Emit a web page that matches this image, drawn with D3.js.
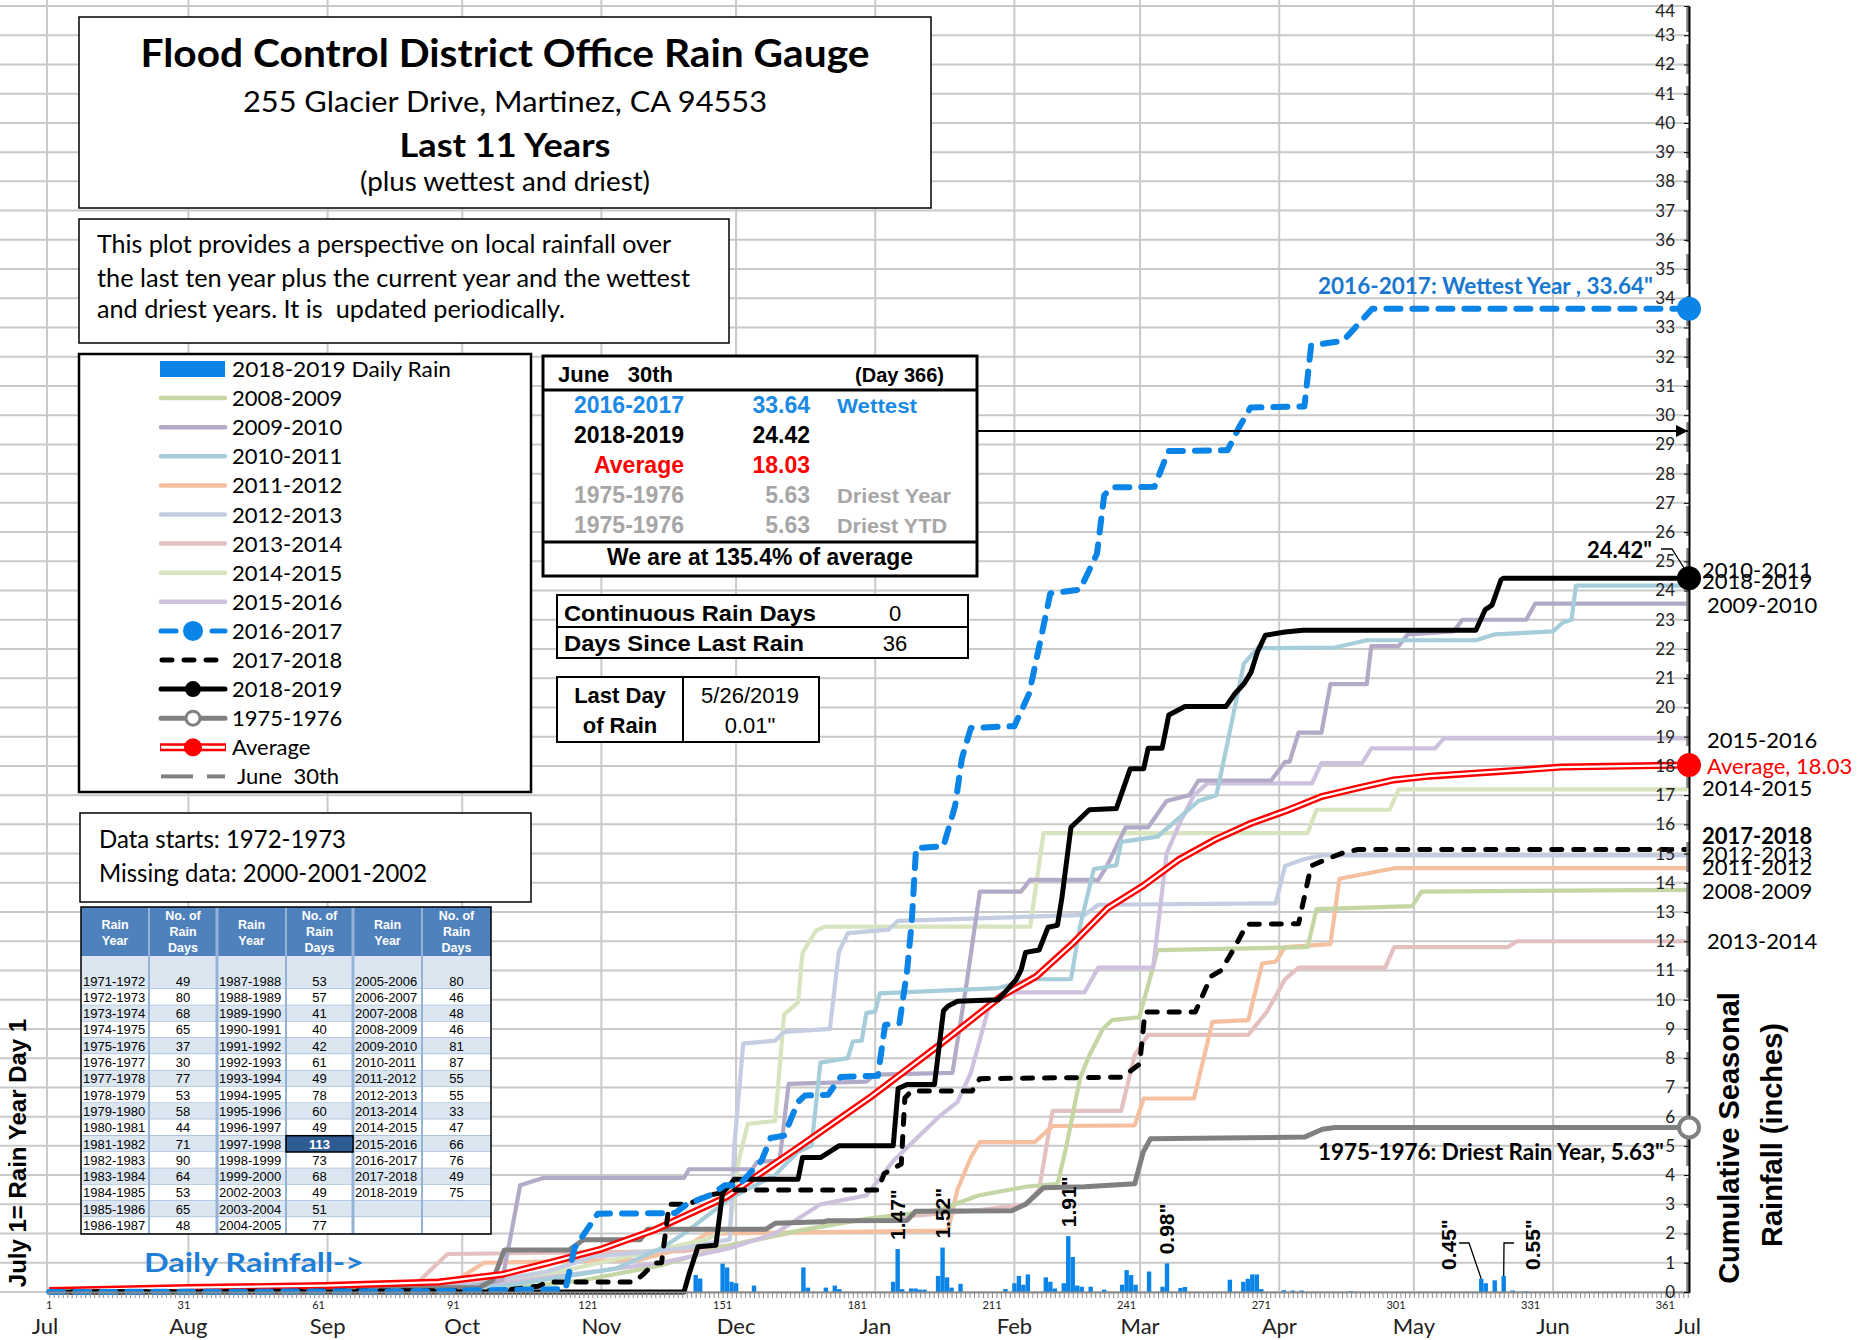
<!DOCTYPE html>
<html>
<head>
<meta charset="utf-8">
<script src="https://cdn.jsdelivr.net/npm/d3@7"></script>
<style>
  body { margin: 0; background: #fff; }
  svg { display: block; }
  text { white-space: pre; }
</style>
</head>
<body>
<div id="chart"></div>
<script>
// ----------------------
// DATA  (day of rain year, cumulative inches)
// ----------------------
const y2008_09 = [[1,0],[102,0.1],[120,0.4],[137,0.9],[152.6,1.6],[168,2.1],[183,2.5],[199,2.8],[208,3.3],[218.5,3.6],[225.6,3.7],[227.6,5.0],[230.6,7.3],[232.7,8.1],[235.7,9.0],[237.7,9.3],[243.8,9.4],[245.8,10.5],[247.9,11.7],[281.3,11.8],[283.3,13.1],[304.6,13.2],[306.7,13.7],[366,13.76]];
const y2009_10 = [[1,0],[91.7,0.1],[101.9,0.4],[103.9,2.0],[105.9,3.65],[111,3.9],[142.4,3.9],[143.5,4.2],[157.6,4.2],[158.7,4.45],[163.7,4.5],[165.7,7.12],[183,7.2],[185,7.44],[202.2,7.5],[205.3,10.5],[208.3,13.7],[217.5,13.7],[219.5,14.1],[234.7,14.1],[236.7,14.6],[240.8,15.9],[245.8,15.9],[249.9,16.8],[255,17.0],[257,17.5],[273.2,17.5],[276.3,18.14],[277.3,18.14],[279.3,19.14],[284.4,19.14],[286.4,20.8],[294.5,20.8],[295.5,22.1],[301.6,22.1],[303.6,22.5],[313.8,22.6],[315.8,23.0],[330,23.0],[332,23.55],[366,23.55]];
const y2010_11 = [[1,0],[101.9,0.2],[127.2,0.8],[137.4,1.5],[142.4,2.0],[152.6,3.2],[162.7,4.0],[167.8,4.8],[170.8,5.0],[172.8,7.85],[178.9,8.0],[180,8.57],[182,8.6],[183,9.54],[185,9.6],[186,10.22],[212.4,10.4],[219.5,10.7],[228.6,10.7],[230.6,12.5],[233.7,14.47],[238.7,14.6],[239.8,15.4],[247.9,15.58],[257,16.8],[261,17.0],[264.1,19.25],[267.1,21.5],[270.2,22.03],[287.4,22.05],[294.5,22.3],[318.8,22.3],[322.9,22.5],[336,22.6],[338.1,22.9],[340.1,23.0],[341.1,24.17],[366,24.17]];
const y2011_12 = [[1,0],[61.3,0.1],[91.7,0.4],[97.8,1.0],[132.3,1.1],[142.4,1.5],[147.5,2.0],[201.2,2.1],[203.3,3.5],[206.3,4.6],[208.3,5.13],[220.5,5.13],[224.5,5.68],[242.8,5.7],[244.8,6.62],[256,6.62],[260.1,9.24],[268.1,9.3],[271.2,11.24],[274.2,11.3],[276.3,11.8],[286.4,11.9],[288.4,14.14],[300.6,14.5],[366,14.5]];
const y2012_13 = [[1,0],[96.8,0.3],[112,0.7],[122.2,1.2],[142.4,1.5],[152.6,1.8],[153.6,5.0],[155.6,8.5],[162.7,8.6],[164.7,8.9],[174.9,9.0],[176.9,11.64],[178.9,12.28],[188,12.4],[190.1,12.7],[231.6,12.9],[234.7,13.25],[274.2,13.3],[276.3,14.58],[280.3,14.8],[284.4,14.94],[366,14.94]];
const y2013_14 = [[1,0],[81.6,0.1],[84.6,0.55],[89.7,1.3],[142.4,1.4],[152.6,1.6],[177.9,2.4],[193.1,2.6],[208.3,2.8],[218.5,3.0],[221.5,3.5],[224.5,6.2],[239.8,6.2],[242.8,8.1],[245.8,8.8],[268.1,8.8],[272.2,9.58],[276.3,10.7],[279.3,11.1],[298.6,11.1],[300.6,11.8],[325.9,11.8],[328,12.0],[366,12.0]];
const y2014_15 = [[1,0],[91.7,0.2],[112,0.6],[132.3,1.3],[147.5,1.8],[152.6,2.2],[154.6,4.5],[156.6,5.75],[162.7,5.85],[164.7,9.5],[167.8,9.9],[168.8,11.6],[171.8,12.37],[173.9,12.5],[219.5,12.5],[222.5,15.7],[281.3,15.7],[283.3,16.5],[299.6,16.5],[301.6,17.2],[366,17.2]];
const y2015_16 = [[1,0],[71.5,0.1],[101.9,0.3],[117.1,0.6],[137.4,1.0],[152.6,1.5],[162.7,2.0],[172.8,3.0],[183,3.3],[189.1,4.5],[199.2,6.0],[203.3,6.5],[206.3,7.5],[210.4,9.8],[213.4,10.25],[231.6,10.25],[234.7,11.1],[246.9,11.1],[249.9,15.0],[253,16.1],[256,17.0],[259,17.4],[282.3,17.4],[284.4,18.1],[293.5,18.1],[295.5,18.6],[309.7,18.6],[311.7,18.94],[366,18.94]];
const y2016_17 = [[1,0],[81,0.02],[116,0.1],[118,1.5],[123.2,2.68],[140.4,2.7],[143,3.0],[148.5,3.33],[151.5,3.65],[154.6,3.65],[159.7,4.5],[161.7,5.27],[164.7,5.35],[167.8,6.5],[169.3,6.72],[174.5,6.75],[177.3,7.36],[185.6,7.4],[187.2,9.14],[190.4,9.2],[192.1,11.0],[193.1,12.6],[194.1,15.19],[200.2,15.25],[202.8,16.64],[204.3,18.25],[206.3,19.3],[216,19.36],[219.3,20.48],[222.5,22.8],[224,23.9],[230.6,24.03],[234.4,25.26],[236,27.26],[237.7,27.53],[247.2,27.55],[250.3,28.77],[263.5,28.8],[266.1,29.6],[268.6,30.26],[280.6,30.3],[282.1,32.38],[289.3,32.55],[292.5,33.1],[295.7,33.64],[366,33.64]];
const y2017_18 = [[1,0],[101.9,0.05],[110,0.2],[112,0.34],[131.3,0.34],[133.3,0.6],[135.8,0.99],[137.4,1.0],[139.1,3.0],[143.4,3.0],[147.5,3.3],[151,3.4],[153.6,3.49],[185.6,3.49],[187,4.05],[190.8,4.38],[191.6,6.64],[193.1,6.88],[206.6,6.88],[208.3,7.3],[240,7.35],[243.9,7.8],[245.1,9.58],[256.3,9.58],[259.8,10.8],[262,11.0],[264.7,11.69],[267.8,12.58],[279.3,12.6],[282.1,14.58],[285.4,14.8],[289.3,15.03],[292.5,15.14],[366,15.14]];
const y2018_19 = [[1,0],[142.4,0],[143.5,0.6],[145.5,1.55],[149.5,1.6],[151,3.4],[152.6,3.65],[153.6,3.86],[167.8,3.86],[168.8,4.6],[172.8,4.6],[174.9,4.8],[176.9,5.0],[189,5.0],[190.1,6.96],[192.1,7.1],[198.2,7.1],[200.2,9.62],[201.2,9.78],[203.3,9.95],[212.4,10.0],[216.4,10.69],[217.5,11.02],[218.5,11.62],[221.5,11.7],[223.5,12.48],[225.6,12.55],[226.6,13.5],[228.6,15.9],[232.7,16.5],[238.7,16.54],[241.8,17.9],[244.8,17.9],[245.8,18.6],[248.9,18.6],[250.4,19.74],[254,20.03],[263.1,20.03],[265.1,20.47],[267.1,20.8],[268.7,21.2],[270.2,21.92],[271.9,22.47],[276.3,22.58],[280.3,22.64],[318.8,22.64],[320.9,23.35],[322.4,23.5],[324.4,24.37],[324.9,24.42],[366,24.42]];
const y1975_76 = [[1,0],[31,0.05],[61,0.1],[96.8,0.15],[99.8,0.4],[102.4,1.44],[116.8,1.44],[120,1.79],[132.7,1.79],[134.3,2.15],[160.7,2.15],[162.7,2.35],[173.3,2.4],[174.5,2.44],[192.1,2.45],[194,2.76],[215.4,2.78],[218.5,3.0],[222.5,3.57],[231.6,3.6],[242.8,3.7],[244.7,4.79],[246.3,5.24],[280.6,5.3],[284.6,5.57],[287.4,5.63],[366,5.63]];
const yAverage = [[1,0.05],[31.9,0.15],[62.3,0.22],[87.7,0.34],[101.9,0.6],[112,0.99],[124,1.47],[135.8,2.12],[151.8,3.25],[167.8,4.94],[183.7,6.64],[199.6,8.49],[212.9,10.1],[220.9,10.8],[228.8,11.9],[236.8,13.14],[244.7,13.9],[252.7,14.8],[260.6,15.47],[268.6,16.03],[276.6,16.47],[284.6,16.96],[292.6,17.25],[300.5,17.52],[308.5,17.65],[324.4,17.81],[337.8,17.96],[366,18.03]];

// 2018-2019 daily rain
const rainDay = [145,146,151,152,153,154,158,169,170,174,176,177,189,190,191,193,194,195,196,199,200,201,202,204,214,216,217,218,219,223,224,225,227,228,229,230,231,233,236,240,241,242,243,246,249,250,253,254,264,267,268,269,270,271,276,278,280,291,320,321,323,325,327,330];
const rainInch = [0.58,0.46,0.97,0.84,0.35,0.3,0.22,0.84,0.15,0.15,0.22,0.1,0.35,1.47,0.1,0.12,0.12,0.08,0.08,0.55,1.52,0.5,0.15,0.28,0.1,0.3,0.55,0.25,0.6,0.5,0.35,0.12,0.3,1.91,1.2,0.22,0.18,0.18,0.08,0.25,0.75,0.58,0.25,0.7,0.18,0.98,0.14,0.17,0.42,0.35,0.45,0.6,0.6,0.1,0.06,0.05,0.05,0.03,0.45,0.3,0.4,0.55,0.05,0.02];

const labelDays = [1,31,61,91,121,151,181,211,241,271,301,331,361];
const monthStart = [1,32,63,93,124,154,185,216,244,275,305,336,366];
const monthNames = ["Jul","Aug","Sep","Oct","Nov","Dec","Jan","Feb","Mar","Apr","May","Jun","Jul"];
const yTickValues = d3.range(0, 45);

const statYears = ["2016-2017","2018-2019","Average","1975-1976","1975-1976"];
const statTotals = ["33.64","24.42","18.03","5.63","5.63"];
const statNotes = ["Wettest","","","Driest Year","Driest YTD"];

const tblYearsA = ["1971-1972","1972-1973","1973-1974","1974-1975","1975-1976","1976-1977","1977-1978","1978-1979","1979-1980","1980-1981","1981-1982","1982-1983","1983-1984","1984-1985","1985-1986","1986-1987"];
const tblDaysA = [49,80,68,65,37,30,77,53,58,44,71,90,64,53,65,48];
const tblYearsB = ["1987-1988","1988-1989","1989-1990","1990-1991","1991-1992","1992-1993","1993-1994","1994-1995","1995-1996","1996-1997","1997-1998","1998-1999","1999-2000","2002-2003","2003-2004","2004-2005"];
const tblDaysB = [53,57,41,40,42,61,49,78,60,49,113,73,68,49,51,77];
const tblYearsC = ["2005-2006","2006-2007","2007-2008","2008-2009","2009-2010","2010-2011","2011-2012","2012-2013","2013-2014","2014-2015","2015-2016","2016-2017","2017-2018","2018-2019","",""];
const tblDaysC = [80,46,48,46,81,87,55,55,33,47,66,76,49,75,"",""];

// ----------------------
// SETUP
// ----------------------
const CAL = "Lato, 'Open Sans', sans-serif";
const ARI = "'Liberation Sans', Arial, sans-serif";
const BLUE = "#0a84e6";

const svg = d3.select("#chart").append("svg")
  .attr("width", 1874).attr("height", 1340)
  .style("background", "#fff");

const x = d3.scaleLinear().domain([0.5, 366.5]).range([47, 1690]);
const y = d3.scaleLinear().domain([0, 44]).range([1292, 6]);

function txt(g, s, px, py, o) {
  o = o || {};
  const t = g.append("text").attr("x", px).attr("y", py).text(s)
    .attr("font-family", o.font || CAL)
    .attr("font-size", o.size || 20)
    .attr("font-weight", o.bold ? "bold" : "normal")
    .attr("fill", o.color || "#000")
    .attr("text-anchor", o.anchor || "start");
  if (o.len) t.attr("textLength", o.len).attr("lengthAdjust", "spacingAndGlyphs");
  return t;
}

// gridlines
const grid = svg.append("g");
grid.selectAll(".hg").data(yTickValues).join("line")
  .attr("x1", 0).attr("x2", x(366.5))
  .attr("y1", d => y(d)).attr("y2", d => y(d))
  .attr("stroke", "#c9c9c9").attr("stroke-width", 2);
grid.selectAll(".vg").data(monthStart.slice(1, 12)).join("line")
  .attr("x1", d => x(d)).attr("x2", d => x(d))
  .attr("y1", 0).attr("y2", y(0))
  .attr("stroke", "#c9c9c9").attr("stroke-width", 2);
grid.append("line").attr("x1", 47).attr("x2", 47).attr("y1", 0).attr("y2", y(0))
  .attr("stroke", "#c9c9c9").attr("stroke-width", 2);

// daily rain bars
svg.append("g").selectAll("rect").data(rainDay).join("rect")
  .attr("x", d => x(d) - 2.2)
  .attr("width", 4.4)
  .attr("y", (d, i) => y(rainInch[i]))
  .attr("height", (d, i) => y(0) - y(rainInch[i]))
  .attr("fill", BLUE);

// ----------------------
// CUMULATIVE LINES
// ----------------------
const line = d3.line().x(d => x(d[0])).y(d => y(d[1]));
const lines = svg.append("g").attr("fill", "none")
  .attr("stroke-linejoin", "round");

const pastel = [
  [y2013_14, "#e4c0c0"], [y2011_12, "#f5c0a0"], [y2008_09, "#c4d6a3"],
  [y2014_15, "#d7e4be"], [y2012_13, "#c4cde1"], [y2015_16, "#cdc1de"],
  [y2009_10, "#b3aac7"], [y2010_11, "#a5cdda"]
];
pastel.forEach(p => {
  lines.append("path").attr("d", line(p[0]))
    .attr("stroke", p[1]).attr("stroke-width", 4.2);
});
lines.append("path").attr("d", line(y1975_76))
  .attr("stroke", "#808080").attr("stroke-width", 5);
lines.append("path").attr("d", line(yAverage))
  .attr("stroke", "#ff0000").attr("stroke-width", 7);
lines.append("path").attr("d", line(yAverage))
  .attr("stroke", "#fff").attr("stroke-width", 2.2);
lines.append("path").attr("d", line(y2017_18))
  .attr("stroke", "#000").attr("stroke-width", 5)
  .attr("stroke-dasharray", "10,12").attr("stroke-linecap", "round");
lines.append("path").attr("d", line(y2018_19))
  .attr("stroke", "#000").attr("stroke-width", 5);
lines.append("path").attr("d", line(y2016_17))
  .attr("stroke", BLUE).attr("stroke-width", 6)
  .attr("stroke-dasharray", "14,12").attr("stroke-linecap", "round");

// June 30th marker line along right edge
svg.append("line").attr("x1", x(366)).attr("x2", x(366))
  .attr("y1", y(0)).attr("y2", y(44))
  .attr("stroke", "#808080").attr("stroke-width", 3).attr("stroke-dasharray", "30,12");

// ----------------------
// AXES
// ----------------------
const xAxis = svg.append("g").attr("transform", `translate(0,${y(0)})`)
  .call(d3.axisBottom(x).tickValues(d3.range(1, 367)).tickSize(6).tickSizeOuter(0).tickFormat(""));
xAxis.selectAll("line").attr("stroke", "#8c8c8c");
xAxis.select(".domain").attr("stroke", "#8c8c8c").attr("stroke-width", 2);

const yAxis = svg.append("g").attr("transform", `translate(${x(366.5) - 1},0)`)
  .call(d3.axisLeft(y).tickValues(yTickValues).tickSize(5).tickSizeOuter(0).tickPadding(9));
yAxis.select(".domain").attr("stroke", "#000").attr("stroke-width", 2);
yAxis.selectAll("line").attr("stroke", "#000");
yAxis.selectAll("text").attr("font-family", CAL).attr("font-size", 17).attr("fill", "#222");
yAxis.selectAll(".tick text").filter(d => d === 44).attr("dy", "0.62em");

const xl = svg.append("g");
labelDays.forEach((d, i) => {
  txt(xl, String(d), x(d), 1309, { size: 11, anchor: "middle", color: "#222" });
  txt(xl, monthNames[i], i === 0 ? 45 : x(monthStart[i]), 1334, { size: 22, anchor: "middle", color: "#222" });
});

// axis titles
svg.append("text").attr("transform", "translate(18,1153) rotate(-90)")
  .attr("text-anchor", "middle").attr("dy", "0.35em")
  .attr("font-family", ARI).attr("font-weight", "bold").attr("font-size", 24)
  .text("July 1= Rain Year Day 1");
svg.append("text").attr("transform", "translate(1729,1138) rotate(-90)")
  .attr("text-anchor", "middle").attr("dy", "0.35em")
  .attr("font-family", ARI).attr("font-weight", "bold").attr("font-size", 29)
  .text("Cumulative Seasonal");
svg.append("text").attr("transform", "translate(1772,1135) rotate(-90)")
  .attr("text-anchor", "middle").attr("dy", "0.35em")
  .attr("font-family", ARI).attr("font-weight", "bold").attr("font-size", 29)
  .text("Rainfall (inches)");

// ----------------------
// END MARKERS AND LABELS
// ----------------------
const ann = svg.append("g");
const xEnd = x(366.5) - 1;
ann.append("circle").attr("cx", xEnd).attr("cy", y(33.64)).attr("r", 12).attr("fill", BLUE);
ann.append("circle").attr("cx", xEnd).attr("cy", y(24.42)).attr("r", 12).attr("fill", "#000");
ann.append("circle").attr("cx", xEnd).attr("cy", y(18.03)).attr("r", 12).attr("fill", "#ff0000");
ann.append("circle").attr("cx", xEnd).attr("cy", y(5.63)).attr("r", 10)
  .attr("fill", "#fff").attr("stroke", "#808080").attr("stroke-width", 4);

txt(ann, "2016-2017: Wettest Year , 33.64\"", 1653, y(33.64) - 15, { bold: true, size: 22, color: "#1877cf", anchor: "end", len: 335 });
txt(ann, "1975-1976: Driest Rain Year, 5.63\"", 1664, y(5.63) + 33, { bold: true, size: 22, anchor: "end", len: 346 });
txt(ann, "24.42\"", 1652, 558, { bold: true, size: 22, anchor: "end" });
ann.append("polyline").attr("points", "1661,549 1672,549 1684,568")
  .attr("fill", "none").attr("stroke", "#000").attr("stroke-width", 1.3);

const endLabels = [
  ["2010-2011", 24.17, -15, 1702, false, "#000"],
  ["2018-2019", 24.42, 4, 1702, false, "#000"],
  ["2009-2010", 23.55, 2, 1707, false, "#000"],
  ["2015-2016", 18.94, 3, 1707, false, "#000"],
  ["Average, 18.03", 18.03, 2, 1707, false, "#ff0000"],
  ["2014-2015", 17.2, 0, 1702, false, "#000"],
  ["2017-2018", 15.14, -12, 1702, true, "#000"],
  ["2012-2013", 14.94, 0, 1702, false, "#000"],
  ["2011-2012", 14.5, 0, 1702, false, "#000"],
  ["2008-2009", 13.76, 2, 1702, false, "#000"],
  ["2013-2014", 12.0, 1, 1707, false, "#000"]
];
endLabels.forEach(l => {
  txt(ann, l[0], l[3], y(l[1]) + l[2] + 7, { size: 22, bold: l[4], color: l[5] });
});

// daily rain value labels
const barLabels = [[190, 1.47, 0], [200, 1.52, 0], [228, 1.91, 0], [250, 0.98, 0], [320, 0.45, -33], [325, 0.55, 29]];
barLabels.forEach(b => {
  const bx = x(b[0]) + b[2];
  const by = b[2] === 0 ? y(b[1]) - 9 : 1270;
  ann.append("text").attr("transform", `translate(${bx},${by}) rotate(-90)`)
    .attr("dy", "0.35em").attr("font-family", ARI).attr("font-weight", "bold")
    .attr("font-size", 21).text(b[1].toFixed(2) + "\"");
});
ann.append("polyline").attr("points", `1459,1243 1469,1243 ${x(320)},${y(0.45)}`)
  .attr("fill", "none").attr("stroke", "#000").attr("stroke-width", 1.3);
ann.append("polyline").attr("points", `1514,1243 1504,1243 ${x(325)},${y(0.55)}`)
  .attr("fill", "none").attr("stroke", "#000").attr("stroke-width", 1.3);

txt(ann, "Daily Rainfall->", 144, 1272, { bold: true, size: 27, color: "#1f7fd6", len: 220 });

// ----------------------
// TEXT BOXES
// ----------------------
const boxes = svg.append("g");
function box(x0, y0, x1, y1, sw) {
  boxes.append("rect").attr("x", x0).attr("y", y0).attr("width", x1 - x0).attr("height", y1 - y0)
    .attr("fill", "#fff").attr("stroke", "#000").attr("stroke-width", sw || 1.5);
}

// title
box(79, 17, 931, 208, 1.5);
txt(boxes, "Flood Control District Office Rain Gauge", 505, 67, { bold: true, size: 39, anchor: "middle", len: 729 });
txt(boxes, "255 Glacier Drive, Martinez, CA 94553", 505, 112, { size: 28, anchor: "middle", len: 524 });
txt(boxes, "Last 11 Years", 505, 157, { bold: true, size: 32, anchor: "middle", len: 211 });
txt(boxes, "(plus wettest and driest)", 505, 191, { size: 26, anchor: "middle", len: 290 });

// description
box(79, 219, 729, 343, 1.5);
txt(boxes, "This plot provides a perspective on local rainfall over", 97, 253, { size: 25, len: 574 });
txt(boxes, "the last ten year plus the current year and the wettest", 97, 287, { size: 25, len: 593 });
txt(boxes, "and driest years. It is  updated periodically.", 97, 318, { size: 25, len: 468 });

// legend
box(79, 354, 531, 792, 2.5);
const legendLabels = ["2018-2019 Daily Rain","2008-2009","2009-2010","2010-2011","2011-2012","2012-2013","2013-2014","2014-2015","2015-2016","2016-2017","2017-2018","2018-2019","1975-1976","Average"," June  30th"];
const legendColors = [BLUE,"#c4d6a3","#b3aac7","#a5cdda","#f5c0a0","#c4cde1","#e4c0c0","#d7e4be","#cdc1de",BLUE,"#000","#000","#808080","#ff0000","#808080"];
const lg = boxes.append("g");
legendLabels.forEach((lab, i) => {
  const cy = 369 + i * 29.1;
  const c = legendColors[i];
  if (i === 0) {
    lg.append("rect").attr("x", 160).attr("y", cy - 8).attr("width", 65).attr("height", 16).attr("fill", c);
  } else if (i <= 8) {
    lg.append("line").attr("x1", 161).attr("x2", 225).attr("y1", cy).attr("y2", cy)
      .attr("stroke", c).attr("stroke-width", 4.5).attr("stroke-linecap", "round");
  } else if (i === 9) {
    [[161, 176], [212, 225]].forEach(s => lg.append("line").attr("x1", s[0]).attr("x2", s[1])
      .attr("y1", cy).attr("y2", cy).attr("stroke", c).attr("stroke-width", 5).attr("stroke-linecap", "round"));
    lg.append("circle").attr("cx", 193).attr("cy", cy).attr("r", 10).attr("fill", c);
  } else if (i === 10) {
    lg.append("line").attr("x1", 162).attr("x2", 220).attr("y1", cy).attr("y2", cy)
      .attr("stroke", c).attr("stroke-width", 5).attr("stroke-linecap", "round").attr("stroke-dasharray", "10,12");
  } else if (i === 11) {
    lg.append("line").attr("x1", 161).attr("x2", 225).attr("y1", cy).attr("y2", cy)
      .attr("stroke", c).attr("stroke-width", 5).attr("stroke-linecap", "round");
    lg.append("circle").attr("cx", 193).attr("cy", cy).attr("r", 8).attr("fill", c);
  } else if (i === 12) {
    lg.append("line").attr("x1", 161).attr("x2", 225).attr("y1", cy).attr("y2", cy)
      .attr("stroke", c).attr("stroke-width", 5).attr("stroke-linecap", "round");
    lg.append("circle").attr("cx", 193).attr("cy", cy).attr("r", 7).attr("fill", "#fff")
      .attr("stroke", c).attr("stroke-width", 3);
  } else if (i === 13) {
    lg.append("line").attr("x1", 160).attr("x2", 226).attr("y1", cy).attr("y2", cy)
      .attr("stroke", c).attr("stroke-width", 8);
    lg.append("line").attr("x1", 161).attr("x2", 225).attr("y1", cy).attr("y2", cy)
      .attr("stroke", "#fff").attr("stroke-width", 3);
    lg.append("circle").attr("cx", 193).attr("cy", cy).attr("r", 9).attr("fill", c);
  } else {
    [[161, 193], [207, 225]].forEach(s => lg.append("line").attr("x1", s[0]).attr("x2", s[1])
      .attr("y1", cy).attr("y2", cy).attr("stroke", c).attr("stroke-width", 4));
  }
  txt(lg, lab, 232, cy + 8, { size: 22, len: i === 0 ? 219 : null });
});

// data starts
box(80, 813, 531, 902, 1.5);
txt(boxes, "Data starts: 1972-1973", 99, 848, { size: 25, len: 247 });
txt(boxes, "Missing data: 2000-2001-2002", 99, 882, { size: 25, len: 328 });

// stats box
box(543, 356, 977, 576, 3);
boxes.append("line").attr("x1", 543).attr("x2", 977).attr("y1", 390).attr("y2", 390).attr("stroke", "#000").attr("stroke-width", 3);
boxes.append("line").attr("x1", 543).attr("x2", 977).attr("y1", 542).attr("y2", 542).attr("stroke", "#000").attr("stroke-width", 3);
txt(boxes, "June   30th", 558, 382, { font: ARI, bold: true, size: 22 });
txt(boxes, "(Day 366)", 944, 382, { font: ARI, bold: true, size: 20, anchor: "end" });
const statColors = ["#1a8ae6", "#000", "#ff0000", "#a6a6a6", "#a6a6a6"];
statYears.forEach((s, i) => {
  const by = 413 + i * 30;
  txt(boxes, s, 684, by, { font: ARI, bold: true, size: 23, anchor: "end", color: statColors[i] });
  txt(boxes, statTotals[i], 810, by, { font: ARI, bold: true, size: 23, anchor: "end", color: statColors[i] });
  if (statNotes[i]) txt(boxes, statNotes[i], 837, by, { font: ARI, bold: true, size: 20, color: statColors[i], len: i === 0 ? 80 : (i === 3 ? 114 : 110) });
});
txt(boxes, "We are at 135.4% of average", 760, 565, { font: ARI, bold: true, size: 23, anchor: "middle", len: 306 });

// arrow from the stats box to the axis
const defs = svg.append("defs");
defs.append("marker").attr("id", "arr").attr("viewBox", "0 0 10 10").attr("refX", 10).attr("refY", 5)
  .attr("markerWidth", 6).attr("markerHeight", 6).attr("orient", "auto")
  .append("path").attr("d", "M0,0 L10,5 L0,10 z").attr("fill", "#000");
svg.append("line").attr("x1", 977).attr("x2", xEnd - 1).attr("y1", 431).attr("y2", 431)
  .attr("stroke", "#000").attr("stroke-width", 2).attr("marker-end", "url(#arr)");

// continuous rain days box
box(557, 595, 968, 658, 2);
boxes.append("line").attr("x1", 557).attr("x2", 968).attr("y1", 627).attr("y2", 627).attr("stroke", "#000").attr("stroke-width", 2);
txt(boxes, "Continuous Rain Days", 564, 621, { font: ARI, bold: true, size: 22, len: 252 });
txt(boxes, "0", 895, 621, { font: ARI, size: 22, anchor: "middle" });
txt(boxes, "Days Since Last Rain", 564, 651, { font: ARI, bold: true, size: 22, len: 240 });
txt(boxes, "36", 895, 651, { font: ARI, size: 22, anchor: "middle" });

// last day of rain box
box(557, 677, 819, 742, 2);
boxes.append("line").attr("x1", 683).attr("x2", 683).attr("y1", 677).attr("y2", 742).attr("stroke", "#000").attr("stroke-width", 2);
txt(boxes, "Last Day", 620, 703, { font: ARI, bold: true, size: 22, anchor: "middle" });
txt(boxes, "of Rain", 620, 733, { font: ARI, bold: true, size: 22, anchor: "middle" });
txt(boxes, "5/26/2019", 750, 703, { font: ARI, size: 22, anchor: "middle" });
txt(boxes, "0.01\"", 750, 733, { font: ARI, size: 22, anchor: "middle" });

// ----------------------
// RAIN DAYS TABLE
// ----------------------
const tb = svg.append("g");
const colX = [81, 149, 217, 286, 353, 422, 491];
const rowTop = r => r === 0 ? 956 : 989 + (r - 1) * 16.3;
const rowBot = r => 989 + r * 16.3;
tb.append("rect").attr("x", 81).attr("y", 907).attr("width", 410).attr("height", 49).attr("fill", "#4f81bd");
for (let r = 0; r < 16; r++) {
  tb.append("rect").attr("x", 81).attr("y", rowTop(r)).attr("width", 410).attr("height", rowBot(r) - rowTop(r))
    .attr("fill", r % 2 === 0 ? "#dce6f1" : "#fff");
  tb.append("line").attr("x1", 81).attr("x2", 491).attr("y1", rowBot(r)).attr("y2", rowBot(r))
    .attr("stroke", "#95b3d7").attr("stroke-width", 1.2);
}
colX.slice(1, 6).forEach((cx, i) => {
  tb.append("line").attr("x1", cx).attr("x2", cx).attr("y1", 907).attr("y2", 1234)
    .attr("stroke", "#95b3d7").attr("stroke-width", i % 2 === 1 ? 3 : 2);
});
// highlighted cell
tb.append("rect").attr("x", colX[3]).attr("y", rowTop(10)).attr("width", colX[4] - colX[3]).attr("height", 16.3)
  .attr("fill", "#2f5b93").attr("stroke", "#000").attr("stroke-width", 1.5);
tb.append("rect").attr("x", 81).attr("y", 907).attr("width", 410).attr("height", 327)
  .attr("fill", "none").attr("stroke", "#000").attr("stroke-width", 1.5);

const hdr = [["Rain", "Year"], ["No. of", "Rain", "Days"]];
for (let c = 0; c < 6; c++) {
  const h = hdr[c % 2];
  const cx = (colX[c] + colX[c + 1]) / 2;
  h.forEach((s, k) => {
    const by = h.length === 2 ? 929 + k * 16 : 920 + k * 16;
    txt(tb, s, cx, by, { font: ARI, bold: true, size: 12.5, anchor: "middle", color: "#fff" });
  });
}
const tblYears = [tblYearsA, tblYearsB, tblYearsC];
const tblDays = [tblDaysA, tblDaysB, tblDaysC];
tblYears.forEach((col, g) => {
  col.forEach((s, r) => {
    const by = rowBot(r) - 3.5;
    txt(tb, s, colX[2 * g] + 2, by, { font: ARI, size: 13 });
    const hi = (g === 1 && r === 10);
    txt(tb, String(tblDays[g][r]), (colX[2 * g + 1] + colX[2 * g + 2]) / 2, by,
      { font: ARI, size: 13, anchor: "middle", bold: hi, color: hi ? "#fff" : "#000" });
  });
});
</script>
</body>
</html>
